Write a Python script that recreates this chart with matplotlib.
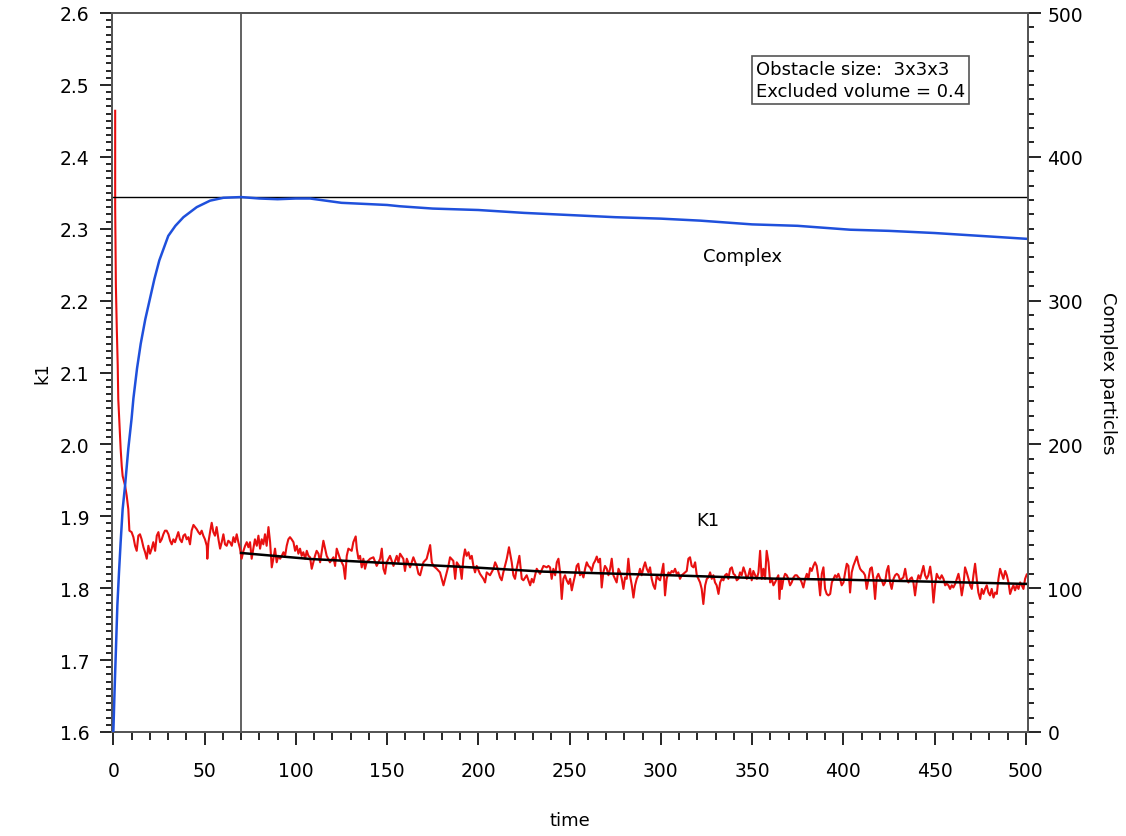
import matplotlib
matplotlib.use("Agg")
import matplotlib.pyplot as plt
from matplotlib.ticker import MultipleLocator

# --- k1 rate estimate (red, left axis), recorded in consecutive time windows ---
k1_time_start = [1.0, 1.0, 1.4, 1.9, 2.4, 2.7, 4.0, 4.6, 5.1, 6.4, 7.3, 8.2, 8.8, 10.0]
k1_start = [2.464, 2.330, 2.220, 2.160, 2.110, 2.063, 1.994, 1.970, 1.956, 1.943, 1.929, 1.910,
            1.880, 1.878]

k1_time_a = [
    11.0, 11.9, 12.8, 13.7, 14.6, 15.5, 16.5, 17.4, 18.3, 19.2, 20.1, 21.0, 21.9, 22.9, 23.8,
    24.7, 25.6, 26.5, 27.4, 28.3, 29.2, 30.2, 31.1, 32.0, 32.9, 33.8, 34.7, 35.6, 36.5, 37.5,
    38.4, 39.3, 40.2, 41.1, 42.0, 42.9, 43.9, 44.8, 45.7, 46.6, 47.5, 48.4, 49.3, 50.2, 51.2,
    51.5, 52.1, 53.0, 53.9, 54.8, 55.7, 56.6, 57.6, 58.5, 59.4, 60.3, 61.2, 62.1, 63.0, 63.9,
    64.9, 65.8, 66.7, 67.6, 68.5, 69.4, 70.3, 71.3, 72.2, 73.1, 74.0, 74.9, 75.8, 76.7, 77.6,
    78.6, 79.5, 80.4, 81.3, 82.2, 83.1, 84.0, 85.0, 85.9, 86.8, 87.7, 88.6, 89.5, 90.4, 91.4,
    92.3, 93.2, 94.1, 95.0, 95.9, 96.8, 97.7, 98.7, 99.6, 100.5, 101.4, 102.3, 103.2, 104.1,
    105.1, 106.0, 106.9, 107.8, 108.7, 109.6, 110.5, 111.4, 112.4,
]
k1_a = [
    1.871, 1.859, 1.852, 1.873, 1.875, 1.868, 1.857, 1.850, 1.841, 1.859, 1.848, 1.855, 1.864,
    1.852, 1.873, 1.878, 1.864, 1.868, 1.875, 1.880, 1.880, 1.875, 1.866, 1.861, 1.868, 1.864,
    1.871, 1.878, 1.868, 1.864, 1.873, 1.875, 1.868, 1.871, 1.861, 1.880, 1.888, 1.885, 1.882,
    1.878, 1.875, 1.880, 1.873, 1.868, 1.859, 1.841, 1.864, 1.878, 1.891, 1.878, 1.873, 1.885,
    1.868, 1.855, 1.864, 1.875, 1.861, 1.859, 1.866, 1.864, 1.859, 1.871, 1.864, 1.875, 1.864,
    1.855, 1.841, 1.852, 1.859, 1.864, 1.857, 1.864, 1.841, 1.855, 1.868, 1.859, 1.873, 1.855,
    1.868, 1.861, 1.875, 1.859, 1.885, 1.864, 1.829, 1.841, 1.855, 1.836, 1.845, 1.841, 1.845,
    1.850, 1.845, 1.859, 1.868, 1.871, 1.868, 1.864, 1.852, 1.859, 1.848, 1.855, 1.845, 1.850,
    1.841, 1.852, 1.845, 1.843, 1.827, 1.836, 1.845, 1.852, 1.848,
]

k1_time_b = [
    113.3, 115.1, 116.9, 118.7, 120.6, 121.5, 122.4, 124.2, 126.1, 127.0, 127.9, 128.8, 130.6,
    131.5, 132.8, 133.4, 134.3, 135.2, 136.1, 137.0, 137.9, 138.8, 140.7, 142.5, 144.3, 146.2,
    147.1, 148.0, 148.9, 149.8, 151.6, 153.5, 155.3, 156.2, 157.1, 158.9, 159.8, 160.8, 162.6,
    164.4, 166.2, 167.2, 168.1, 169.9, 171.7, 173.6, 174.5, 175.4, 177.2, 179.0, 180.9, 181.8,
    182.7, 183.6, 184.5, 186.3, 187.3, 188.2, 190.0, 190.9, 191.8, 192.7, 193.6, 194.6, 195.5,
    196.4, 197.3, 198.2, 199.1, 200.9, 202.8, 203.7, 204.6, 206.4, 208.3, 209.2, 210.1, 211.9,
    212.8, 213.7, 215.6, 216.8, 218.3, 219.2, 220.1, 221.0, 222.5, 223.8, 224.7, 226.5, 228.4,
    229.3, 230.2, 231.1, 232.0, 233.8, 235.7, 237.5,
]
k1_b = [
    1.836, 1.866, 1.845, 1.836, 1.843, 1.831, 1.855, 1.841, 1.831, 1.813, 1.845, 1.855, 1.852,
    1.864, 1.872, 1.855, 1.841, 1.845, 1.829, 1.841, 1.827, 1.836, 1.841, 1.843, 1.831, 1.841,
    1.855, 1.827, 1.820, 1.836, 1.845, 1.831, 1.845, 1.836, 1.848, 1.841, 1.824, 1.841, 1.829,
    1.843, 1.831, 1.820, 1.818, 1.836, 1.841, 1.860, 1.836, 1.831, 1.827, 1.822, 1.804, 1.813,
    1.822, 1.831, 1.843, 1.838, 1.813, 1.836, 1.829, 1.813, 1.841, 1.854, 1.845, 1.850, 1.841,
    1.845, 1.831, 1.822, 1.831, 1.820, 1.813, 1.808, 1.822, 1.818, 1.827, 1.836, 1.831, 1.815,
    1.811, 1.822, 1.841, 1.857, 1.836, 1.818, 1.813, 1.827, 1.845, 1.813, 1.811, 1.818, 1.804,
    1.813, 1.808, 1.818, 1.827, 1.820, 1.831, 1.829,
]

k1_time_c = [
    238.4, 239.3, 240.2, 241.1, 242.1, 243.0, 243.9, 244.8, 245.7, 246.6, 247.5, 248.4, 249.4,
    250.3, 251.2, 252.1, 253.0, 253.9, 254.8, 255.7, 256.7, 257.6, 258.5, 259.4, 260.3, 261.2,
    262.1, 263.1, 264.0, 264.9, 265.8, 266.7, 267.6, 268.5, 269.4, 270.4, 271.3, 272.2, 273.1,
    274.0, 274.9, 275.8, 276.8, 277.7, 278.6, 279.5, 280.4, 281.3, 282.2, 283.1, 284.1, 285.0,
    285.9, 286.8, 287.7, 288.6, 289.5, 290.5, 291.4, 292.3, 293.2, 294.1, 295.0, 295.9, 296.8,
    297.8, 298.7, 299.6, 300.5, 301.4, 302.3, 303.2, 304.2, 305.1, 306.0, 306.9, 307.8, 308.7,
    309.6, 310.5, 311.5, 312.4, 314.2, 315.1, 316.0, 316.9, 317.9, 318.8, 319.7, 320.6, 321.5,
    322.4, 323.3, 324.3, 325.2, 326.1, 327.0, 327.9, 328.8, 329.7, 330.6, 331.6, 332.5, 333.4,
    334.3, 335.2, 336.1, 337.0, 338.0, 338.9, 339.8, 340.7, 341.6, 342.5, 343.4, 344.3, 345.3,
    346.2, 347.1, 348.0, 348.9, 349.8, 350.7, 351.7, 352.6, 353.5, 354.4, 355.3, 356.2, 357.1,
    358.0, 359.0, 359.9, 360.8, 361.7, 362.6,
]
k1_c = [
    1.831, 1.829, 1.813, 1.827, 1.818, 1.836, 1.841, 1.822, 1.785, 1.813, 1.818, 1.811, 1.806,
    1.813, 1.797, 1.808, 1.818, 1.831, 1.834, 1.818, 1.822, 1.815, 1.827, 1.836, 1.831, 1.829,
    1.824, 1.834, 1.838, 1.844, 1.836, 1.841, 1.801, 1.822, 1.831, 1.827, 1.818, 1.827, 1.841,
    1.818, 1.813, 1.808, 1.827, 1.822, 1.813, 1.799, 1.815, 1.813, 1.841, 1.818, 1.804, 1.787,
    1.804, 1.813, 1.818, 1.827, 1.818, 1.829, 1.836, 1.827, 1.822, 1.829, 1.813, 1.804, 1.799,
    1.818, 1.813, 1.811, 1.822, 1.834, 1.790, 1.813, 1.822, 1.820, 1.824, 1.822, 1.827, 1.820,
    1.822, 1.813, 1.818, 1.820, 1.824, 1.841, 1.843, 1.831, 1.829, 1.836, 1.818, 1.813, 1.808,
    1.799, 1.778, 1.804, 1.813, 1.815, 1.822, 1.813, 1.818, 1.808, 1.804, 1.792, 1.808, 1.813,
    1.811, 1.818, 1.820, 1.813, 1.827, 1.829, 1.820, 1.818, 1.811, 1.813, 1.822, 1.818, 1.829,
    1.822, 1.813, 1.818, 1.827, 1.811, 1.824, 1.818, 1.813, 1.822, 1.852, 1.813, 1.827, 1.813,
    1.852, 1.836, 1.808, 1.813, 1.804, 1.808,
]

k1_time_d = [
    363.5, 364.4, 365.0, 365.7, 366.3, 367.2, 368.1, 369.0, 369.9, 370.8, 371.7, 372.7, 373.6,
    374.5, 375.4, 376.3, 377.2, 378.1, 379.1, 380.0, 380.9, 381.8, 382.7, 383.6, 384.5, 385.4,
    386.4, 387.3, 388.2, 389.1, 390.0, 390.9, 391.8, 392.8, 393.7, 394.6, 395.5, 396.4, 397.3,
    398.2, 399.1, 400.1, 401.0, 401.9, 402.8, 403.7, 404.6, 405.5, 406.5, 407.4, 408.3, 409.2,
    410.1, 411.0, 411.9, 412.8, 413.8, 414.7, 415.6, 416.5, 417.4, 418.3, 419.2, 420.2, 421.1,
    422.0, 422.9, 423.8, 424.7, 425.6, 426.5, 427.5, 428.4, 429.3, 430.2, 431.1, 432.0, 432.9,
    433.9, 434.8, 435.7, 436.6, 437.5, 438.4, 439.3, 440.2, 441.2, 442.1, 443.0, 443.9, 444.8,
    445.7, 446.6, 447.6, 448.5, 449.4, 450.3, 451.2, 452.1, 453.0, 453.9, 454.9, 455.8, 456.7,
    457.6, 458.5, 459.4, 460.3, 461.3, 462.2, 463.1, 464.0, 464.9, 465.8, 466.7, 467.6, 468.6,
    469.5, 470.4, 471.3, 472.2, 473.1, 474.0, 475.0, 475.9, 476.8, 477.7, 478.6, 479.5, 480.4,
    481.3, 482.3, 483.2, 484.1, 485.0, 485.9, 486.8, 487.7, 488.7, 489.6, 490.5, 491.4, 492.3,
    493.2, 494.1, 495.0, 496.0, 496.9, 497.8, 498.7, 499.6, 500.5,
]
k1_d = [
    1.813, 1.818, 1.785, 1.813, 1.799, 1.813, 1.820, 1.818, 1.813, 1.804, 1.808, 1.815, 1.818,
    1.818, 1.815, 1.813, 1.808, 1.801, 1.813, 1.820, 1.813, 1.828, 1.824, 1.831, 1.836, 1.831,
    1.813, 1.790, 1.820, 1.829, 1.799, 1.792, 1.790, 1.792, 1.808, 1.813, 1.818, 1.815, 1.820,
    1.813, 1.804, 1.808, 1.822, 1.834, 1.831, 1.794, 1.822, 1.831, 1.838, 1.844, 1.834, 1.827,
    1.824, 1.822, 1.818, 1.799, 1.813, 1.827, 1.829, 1.813, 1.785, 1.815, 1.820, 1.813, 1.811,
    1.804, 1.808, 1.824, 1.831, 1.808, 1.799, 1.813, 1.818, 1.820, 1.818, 1.811, 1.813, 1.815,
    1.827, 1.813, 1.808, 1.813, 1.815, 1.808, 1.790, 1.808, 1.818, 1.813, 1.822, 1.831, 1.818,
    1.813, 1.818, 1.830, 1.813, 1.780, 1.804, 1.820, 1.815, 1.813, 1.818, 1.813, 1.804, 1.806,
    1.804, 1.799, 1.804, 1.801, 1.806, 1.813, 1.820, 1.808, 1.790, 1.804, 1.829, 1.822, 1.813,
    1.804, 1.799, 1.818, 1.834, 1.813, 1.794, 1.785, 1.799, 1.792, 1.799, 1.804, 1.794, 1.790,
    1.799, 1.787, 1.794, 1.792, 1.813, 1.827, 1.820, 1.813, 1.824, 1.818, 1.808, 1.792, 1.799,
    1.804, 1.797, 1.804, 1.799, 1.808, 1.804, 1.799, 1.813, 1.819,
]

k1_time = k1_time_start + k1_time_a + k1_time_b + k1_time_c + k1_time_d
k1_value = k1_start + k1_a + k1_b + k1_c + k1_d

# --- fitted k1 trend (black) ---
fit_time = [70, 108, 150, 200, 236, 300, 362, 400, 450, 500]
fit_value = [1.849, 1.8406, 1.835, 1.8285, 1.823, 1.8184, 1.8133, 1.8118, 1.809, 1.806]

# --- number of complex particles (blue, right axis) ---
complex_time = [
    0, 0.7, 1.3, 2.2, 3.1, 4.0, 5.1, 6.4, 8.2, 10, 11, 13, 15, 17.5, 20, 22.5, 25.2,
    30.1, 34, 38.4, 45.7, 53, 60.3, 70, 80, 90, 100, 107.8, 125, 150, 157, 175, 200,
    225, 250, 275, 300, 321.7, 350, 375, 403.7, 425, 450, 475, 500,
]
complex_count = [
    0, 30, 53, 88, 111, 132, 155, 171, 197, 218, 232, 253, 270, 287, 301, 315, 328,
    345, 352, 358, 365, 369.5, 371.5, 372, 371, 370.5, 371, 371, 368, 366.5, 365.6, 364, 363,
    361, 359.5, 358, 357, 355.6, 353, 352, 349.3, 348.5, 347, 345, 343,
]

complex_peak = 372
steady_start = 70

W, H = 1126, 837
fig = plt.figure(figsize=(W / 100, H / 100), dpi=100)
plt.rcParams["font.family"] = ["DejaVu Sans"]

ax = fig.add_axes([111.7 / W, 1 - 733 / H, (1028 - 111.7) / W, (733 - 14) / H])
ax2 = ax.twinx()

frame_col = "#555555"
for a in (ax, ax2):
    for s in a.spines.values():
        s.set_color(frame_col)
        s.set_linewidth(1.3)

ax.plot(k1_time, k1_value, color="#e81010", lw=1.5, zorder=3)
ax.plot(fit_time, fit_value, color="black", lw=1.8, zorder=4)
ax2.plot(complex_time, complex_count, color="#1f50dc", lw=1.8, zorder=3)

ax2.axhline(complex_peak, color="black", lw=1.0, zorder=2)
ax.axvline(steady_start, color="#555555", lw=1.3, zorder=2)

ax.set_xlim(-0.9, 501.2)
ax.set_ylim(1.6, 2.6)
ax2.set_ylim(0, 500)

ax.xaxis.set_major_locator(MultipleLocator(50))
ax.xaxis.set_minor_locator(MultipleLocator(10))
ax.yaxis.set_major_locator(MultipleLocator(0.1))
ax.yaxis.set_minor_locator(MultipleLocator(0.01))
ax2.yaxis.set_major_locator(MultipleLocator(100))
ax2.yaxis.set_minor_locator(MultipleLocator(10))

fs = 13.5
ax.tick_params(axis="x", which="major", direction="out", length=9, width=1.2,
               labelsize=fs, pad=12, top=False)
ax.tick_params(axis="x", which="minor", direction="out", length=5.5, width=1.2, top=False)
ax.tick_params(axis="y", which="major", direction="out", length=9, width=1.2,
               labelsize=fs, pad=7)
ax.tick_params(axis="y", which="minor", direction="out", length=4.5, width=1.2)
ax2.tick_params(axis="y", which="major", direction="out", length=9, width=1.2,
                labelsize=fs, pad=5)
ax2.tick_params(axis="y", which="minor", direction="out", length=4.5, width=1.2)

ax.set_yticklabels([f"{v:.1f}" for v in ax.get_yticks()])

ax.set_xlabel("time", fontsize=13, labelpad=22)
ax.set_ylabel("k1", fontsize=13, labelpad=6)
ax2.set_ylabel("Complex particles", fontsize=13, rotation=-90, labelpad=24)

ax.text(345, 2.262, "Complex", fontsize=13, ha="center", va="center")
ax.text(326, 1.895, "K1", fontsize=13, ha="center", va="center")

ax.text(0.703, 0.935, "Obstacle size:  3x3x3\nExcluded volume = 0.4",
        transform=ax.transAxes, fontsize=13, ha="left", va="top", linespacing=1.3,
        bbox=dict(boxstyle="square,pad=0.22", facecolor="white", edgecolor="#555555", lw=1.2),
        zorder=5)

fig.savefig("out.png", dpi=100)
